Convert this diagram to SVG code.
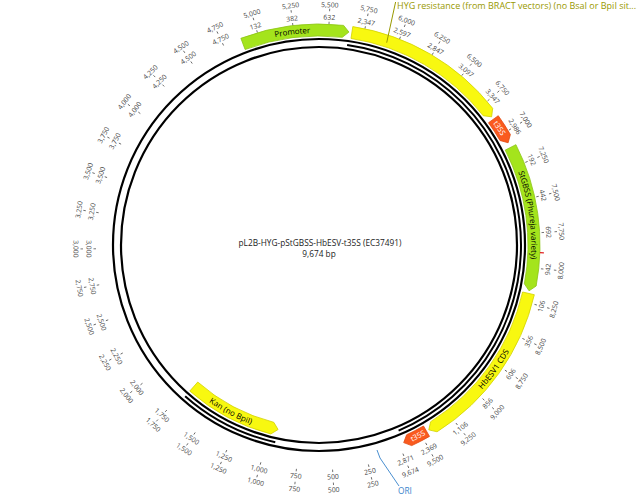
<svg xmlns="http://www.w3.org/2000/svg" width="639" height="497" viewBox="0 0 639 497">
<defs>
<style>
.bb{fill:none;stroke:#000;stroke-width:2.2}
.mid{fill:none;stroke:#000;stroke-width:2}
.lb{font-family:"Open Sans","Liberation Sans",sans-serif;font-size:6.8px;fill:#444;text-anchor:middle;dominant-baseline:central}
.tk{stroke:#555;stroke-width:0.8;fill:none}
.fl{font-family:"Open Sans","Liberation Sans",sans-serif;font-size:8px;fill:#000;text-anchor:middle}
.fw{font-family:"Open Sans","Liberation Sans",sans-serif;font-size:7.5px;fill:#fff;text-anchor:middle}
.lime{fill:#a4e41c;stroke:#8cc414;stroke-width:0.8;stroke-linejoin:round}
.yel{fill:#f8f810;stroke:#d2d200;stroke-width:0.8;stroke-linejoin:round}
.org{fill:#fa5a1e;stroke:#e04a10;stroke-width:0.8;stroke-linejoin:round}
.ttl{font-family:"Open Sans","Liberation Sans",sans-serif;font-size:8.3px;fill:#222;text-anchor:middle}
</style>
<path id="tp-prom" d="M243.0 43.88A215 215 0 0 1 342.97 31.34"/>
<path id="tp-stg" d="M510.57 147.39A215 215 0 0 1 530.26 284.92"/>
<path id="tp-hb" d="M433.89 426.73A215 215 0 0 0 528.49 293.36"/>
<path id="tp-kan" d="M193.76 386.55A189 189 0 0 0 272.32 428.15"/>
<path id="tp-t1" d="M493.38 119.23A215 215 0 0 1 505.2 137.5"/>
<path id="tp-t2" d="M409.18 440.17A215 215 0 0 0 426.5 431.2"/>
</defs>
<rect width="639" height="497" fill="#fff"/>
<g id="backbone">
<circle class="bb" cx="319" cy="245" r="206"/>
<circle class="bb" cx="319" cy="245" r="198"/>
<path class="mid" d="M347.11 44.97A202 202 0 0 1 398.58 430.67"/>
<path class="mid" d="M275.28 442.21A202 202 0 0 1 185.15 396.29"/>
</g>
<g id="ticks">
<g transform="rotate(167.2 319 247)"><path class="tk" d="M319 8.5v2.5M319 21.5v2.5"/><text class="lb" x="319" y="4" transform="rotate(180 319 4)">250</text><text class="lb" x="319" y="17" transform="rotate(180 319 17)">250</text></g>
<g transform="rotate(176.51 319 247)"><path class="tk" d="M319 8.5v2.5M319 21.5v2.5"/><text class="lb" x="319" y="4" transform="rotate(180 319 4)">500</text><text class="lb" x="319" y="17" transform="rotate(180 319 17)">500</text></g>
<g transform="rotate(185.81 319 247)"><path class="tk" d="M319 8.5v2.5M319 21.5v2.5"/><text class="lb" x="319" y="4" transform="rotate(180 319 4)">750</text><text class="lb" x="319" y="17" transform="rotate(180 319 17)">750</text></g>
<g transform="rotate(195.11 319 247)"><path class="tk" d="M319 8.5v2.5M319 21.5v2.5"/><text class="lb" x="319" y="4" transform="rotate(180 319 4)">1,000</text><text class="lb" x="319" y="17" transform="rotate(180 319 17)">1,000</text></g>
<g transform="rotate(204.42 319 247)"><path class="tk" d="M319 8.5v2.5M319 21.5v2.5"/><text class="lb" x="319" y="4" transform="rotate(180 319 4)">1,250</text><text class="lb" x="319" y="17" transform="rotate(180 319 17)">1,250</text></g>
<g transform="rotate(213.72 319 247)"><path class="tk" d="M319 8.5v2.5M319 21.5v2.5"/><text class="lb" x="319" y="4" transform="rotate(180 319 4)">1,500</text><text class="lb" x="319" y="17" transform="rotate(180 319 17)">1,500</text></g>
<g transform="rotate(223.02 319 247)"><path class="tk" d="M319 8.5v2.5M319 21.5v2.5"/><text class="lb" x="319" y="4" transform="rotate(180 319 4)">1,750</text><text class="lb" x="319" y="17" transform="rotate(180 319 17)">1,750</text></g>
<g transform="rotate(232.33 319 247)"><path class="tk" d="M319 8.5v2.5M319 21.5v2.5"/><text class="lb" x="319" y="4" transform="rotate(180 319 4)">2,000</text><text class="lb" x="319" y="17" transform="rotate(180 319 17)">2,000</text></g>
<g transform="rotate(241.63 319 247)"><path class="tk" d="M319 8.5v2.5M319 21.5v2.5"/><text class="lb" x="319" y="4" transform="rotate(180 319 4)">2,250</text><text class="lb" x="319" y="17" transform="rotate(180 319 17)">2,250</text></g>
<g transform="rotate(250.93 319 247)"><path class="tk" d="M319 8.5v2.5M319 21.5v2.5"/><text class="lb" x="319" y="4" transform="rotate(180 319 4)">2,500</text><text class="lb" x="319" y="17" transform="rotate(180 319 17)">2,500</text></g>
<g transform="rotate(260.24 319 247)"><path class="tk" d="M319 8.5v2.5M319 21.5v2.5"/><text class="lb" x="319" y="4" transform="rotate(180 319 4)">2,750</text><text class="lb" x="319" y="17" transform="rotate(180 319 17)">2,750</text></g>
<g transform="rotate(269.54 319 247)"><path class="tk" d="M319 8.5v2.5M319 21.5v2.5"/><text class="lb" x="319" y="4" transform="rotate(180 319 4)">3,000</text><text class="lb" x="319" y="17" transform="rotate(180 319 17)">3,000</text></g>
<g transform="rotate(278.84 319 247)"><path class="tk" d="M319 8.5v2.5M319 21.5v2.5"/><text class="lb" x="319" y="4">3,250</text><text class="lb" x="319" y="17">3,250</text></g>
<g transform="rotate(288.15 319 247)"><path class="tk" d="M319 8.5v2.5M319 21.5v2.5"/><text class="lb" x="319" y="4">3,500</text><text class="lb" x="319" y="17">3,500</text></g>
<g transform="rotate(297.45 319 247)"><path class="tk" d="M319 8.5v2.5M319 21.5v2.5"/><text class="lb" x="319" y="4">3,750</text><text class="lb" x="319" y="17">3,750</text></g>
<g transform="rotate(306.75 319 247)"><path class="tk" d="M319 8.5v2.5M319 21.5v2.5"/><text class="lb" x="319" y="4">4,000</text><text class="lb" x="319" y="17">4,000</text></g>
<g transform="rotate(316.05 319 247)"><path class="tk" d="M319 8.5v2.5M319 21.5v2.5"/><text class="lb" x="319" y="4">4,250</text><text class="lb" x="319" y="17">4,250</text></g>
<g transform="rotate(325.36 319 247)"><path class="tk" d="M319 8.5v2.5M319 21.5v2.5"/><text class="lb" x="319" y="4">4,500</text><text class="lb" x="319" y="17">4,500</text></g>
<g transform="rotate(334.66 319 247)"><path class="tk" d="M319 8.5v2.5M319 21.5v2.5"/><text class="lb" x="319" y="4">4,750</text><text class="lb" x="319" y="17">4,750</text></g>
<g transform="rotate(343.97 319 247)"><path class="tk" d="M319 8.5v2.5M319 21.5v2.5"/><text class="lb" x="319" y="4">5,000</text><text class="lb" x="319" y="17">132</text></g>
<g transform="rotate(353.27 319 247)"><path class="tk" d="M319 8.5v2.5M319 21.5v2.5"/><text class="lb" x="319" y="4">5,250</text><text class="lb" x="319" y="17">382</text></g>
<g transform="rotate(2.57 319 247)"><path class="tk" d="M319 8.5v2.5M319 21.5v2.5"/><text class="lb" x="319" y="4.6">5,500</text><text class="lb" x="319" y="17">632</text></g>
<g transform="rotate(11.88 319 247)"><path class="tk" d="M319 8.5v2.5M319 21.5v2.5"/><text class="lb" x="319" y="4">5,750</text><text class="lb" x="319" y="17">2,347</text></g>
<g transform="rotate(21.18 319 247)"><path class="tk" d="M319 8.5v2.5M319 21.5v2.5"/><text class="lb" x="319" y="4">6,000</text><text class="lb" x="319" y="17">2,597</text></g>
<g transform="rotate(30.48 319 247)"><path class="tk" d="M319 8.5v2.5M319 21.5v2.5"/><text class="lb" x="319" y="4">6,250</text><text class="lb" x="319" y="17">2,847</text></g>
<g transform="rotate(39.79 319 247)"><path class="tk" d="M319 8.5v2.5M319 21.5v2.5"/><text class="lb" x="319" y="4">6,500</text><text class="lb" x="319" y="17">3,097</text></g>
<g transform="rotate(49.09 319 247)"><path class="tk" d="M319 8.5v2.5M319 21.5v2.5"/><text class="lb" x="319" y="4">6,750</text><text class="lb" x="319" y="17">3,347</text></g>
<g transform="rotate(58.39 319 247)"><path class="tk" d="M319 8.5v2.5M319 21.5v2.5"/><text class="lb" x="319" y="4">7,000</text><text class="lb" x="319" y="17">2,986</text></g>
<g transform="rotate(67.70 319 247)"><path class="tk" d="M319 8.5v2.5M319 21.5v2.5"/><text class="lb" x="319" y="4">7,250</text><text class="lb" x="319" y="17">192</text></g>
<g transform="rotate(77.00 319 247)"><path class="tk" d="M319 8.5v2.5M319 21.5v2.5"/><text class="lb" x="319" y="4">7,500</text><text class="lb" x="319" y="17">442</text></g>
<g transform="rotate(86.30 319 247)"><path class="tk" d="M319 8.5v2.5M319 21.5v2.5"/><text class="lb" x="319" y="4">7,750</text><text class="lb" x="319" y="17">692</text></g>
<g transform="rotate(95.61 319 247)"><path class="tk" d="M319 8.5v2.5M319 21.5v2.5"/><text class="lb" x="319" y="4" transform="rotate(180 319 4)">8,000</text><text class="lb" x="319" y="17" transform="rotate(180 319 17)">942</text></g>
<g transform="rotate(104.91 319 247)"><path class="tk" d="M319 8.5v2.5M319 21.5v2.5"/><text class="lb" x="319" y="4" transform="rotate(180 319 4)">8,250</text><text class="lb" x="319" y="17" transform="rotate(180 319 17)">106</text></g>
<g transform="rotate(114.21 319 247)"><path class="tk" d="M319 8.5v2.5M319 21.5v2.5"/><text class="lb" x="319" y="4" transform="rotate(180 319 4)">8,500</text><text class="lb" x="319" y="17" transform="rotate(180 319 17)">356</text></g>
<g transform="rotate(123.52 319 247)"><path class="tk" d="M319 8.5v2.5M319 21.5v2.5"/><text class="lb" x="319" y="4" transform="rotate(180 319 4)">8,750</text><text class="lb" x="319" y="17" transform="rotate(180 319 17)">606</text></g>
<g transform="rotate(132.82 319 247)"><path class="tk" d="M319 8.5v2.5M319 21.5v2.5"/><text class="lb" x="319" y="4" transform="rotate(180 319 4)">9,000</text><text class="lb" x="319" y="17" transform="rotate(180 319 17)">856</text></g>
<g transform="rotate(142.12 319 247)"><path class="tk" d="M319 8.5v2.5M319 21.5v2.5"/><text class="lb" x="319" y="4" transform="rotate(180 319 4)">9,250</text><text class="lb" x="319" y="17" transform="rotate(180 319 17)">1,106</text></g>
<g transform="rotate(151.43 319 247)"><path class="tk" d="M319 8.5v2.5M319 21.5v2.5"/><text class="lb" x="319" y="4" transform="rotate(180 319 4)">9,500</text><text class="lb" x="319" y="17" transform="rotate(180 319 17)">2,369</text></g>
<g transform="rotate(157.9 319 247)"><path class="tk" d="M319 8.5v2.5M319 21.5v2.5"/><text class="lb" x="319" y="4" transform="rotate(180 319 4)">9,674</text><text class="lb" x="319" y="17" transform="rotate(180 319 17)">2,871</text></g>
</g>
<g id="promoter"><path class="lime" d="M240.88 38.27A221 221 0 0 1 343.63 25.38L348.92 32.09L342.30 37.30A209 209 0 0 0 245.12 49.49Z"/><text class="fl" dy="2.8"><textPath href="#tp-prom" startOffset="50%">Promoter</textPath></text></g>
<g id="hyg"><path class="yel" d="M352.81 26.60A221 221 0 0 1 492.68 108.33L491.61 116.81L483.24 115.75A209 209 0 0 0 350.97 38.46Z"/></g>
<g id="t35s-1"><path class="org" d="M498.25 115.72A221 221 0 0 1 510.39 134.5L508.12 142.74L500.0 140.5A209 209 0 0 0 488.51 122.74Z"/><text class="fw" dy="2.6"><textPath href="#tp-t1" startOffset="50%">t35S</textPath></text></g>
<g id="stgbss"><path class="lime" d="M515.91 144.67A221 221 0 0 1 536.16 286.03L529.07 290.80L524.37 283.81A209 209 0 0 0 505.22 150.12Z"/><text class="fl" dy="2.8"><textPath href="#tp-stg" startOffset="50%">StGBSS (Phureja variety)</textPath></text></g>
<g id="hbesv1"><path class="yel" d="M534.34 294.71A221 221 0 0 1 437.09 431.80L428.77 429.87L430.68 421.66A209 209 0 0 0 522.64 292.01Z"/><text class="fl" dy="2.8"><textPath href="#tp-hb" startOffset="50%">HbESV1 CDS</textPath></text></g>
<g id="t35s-2"><path class="org" d="M429.5 436.39A221 221 0 0 1 411.70 445.62L403.70 442.62L406.67 434.73A209 209 0 0 0 423.5 426.0Z"/><text class="fw" dy="2.6"><textPath href="#tp-t2" startOffset="50%">t35S</textPath></text></g>
<g id="kan"><path class="yel" d="M189.79 391.05A195 195 0 0 0 270.83 433.96L278.09 429.52L273.80 422.33A183 183 0 0 1 197.74 382.06Z"/><text class="fl" dy="2.8"><textPath href="#tp-kan" startOffset="50%">Kan (no BpiI)</textPath></text></g>
<g id="snp"><path d="M539.9 252.7L543.9 252.9" stroke="#e02020" stroke-width="1.2"/></g>
<g id="connectors">
<path d="M386.7 42.7L395.6 2" stroke="#999900" stroke-width="1" fill="none"/>
<path d="M377 450L380 458L399 486" stroke="#4a8fd0" stroke-width="1" fill="none"/>
</g>
<g id="hyg-label"><text x="397" y="8.5" style="font-family:'Open Sans','Liberation Sans',sans-serif;font-size:9px;fill:#999900">HYG resistance (from BRACT vectors) (no BsaI or BpiI sit...</text></g>
<g id="ori-label"><text x="398" y="494" style="font-family:'Open Sans','Liberation Sans',sans-serif;font-size:8.3px;fill:#3a85cc">ORI</text></g>
<g id="title">
<text class="ttl" x="320" y="246">pL2B-HYG-pStGBSS-HbESV-t35S (EC37491)</text>
<text class="ttl" x="319" y="257">9,674 bp</text>
</g>
</svg>
